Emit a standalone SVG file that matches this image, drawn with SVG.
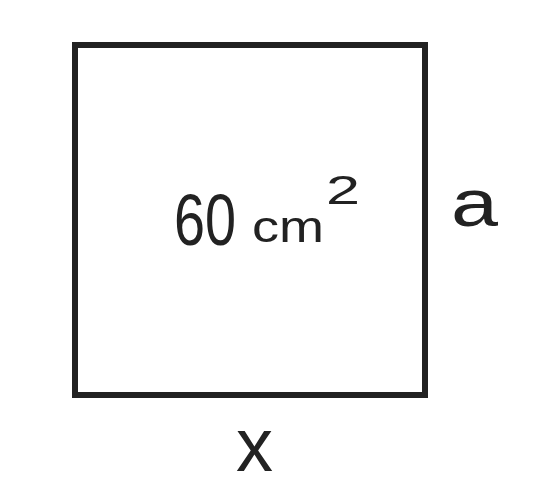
<svg xmlns="http://www.w3.org/2000/svg" width="544" height="486" viewBox="0 0 544 486">
<style>
.lbl{font-family:"Liberation Sans",Arial,sans-serif;fill:#222;}
.box{fill:none;stroke:#222;stroke-width:6;}
</style>
<rect width="544" height="486" fill="#ffffff"/>
<g id="square">
<rect class="box" x="75" y="45" width="350" height="350"/>
<text class="lbl"><tspan x="174" y="245" font-size="72" textLength="62" lengthAdjust="spacingAndGlyphs">60</tspan><tspan x="252" y="242" font-size="44" textLength="72" lengthAdjust="spacingAndGlyphs">cm</tspan><tspan x="326" y="204" font-size="40" textLength="34" lengthAdjust="spacingAndGlyphs">2</tspan></text>
</g>
<g id="side-a">
<text class="lbl" x="451" y="226" font-size="66" textLength="47" lengthAdjust="spacingAndGlyphs">a</text>
</g>
<g id="side-x">
<text class="lbl" x="236" y="471" font-size="76" textLength="37" lengthAdjust="spacingAndGlyphs">x</text>
</g>
<g id="connectors"></g>
</svg>
